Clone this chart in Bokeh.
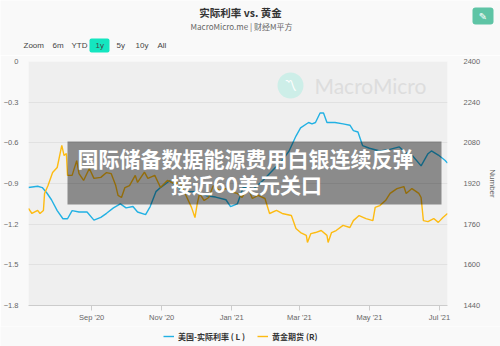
import pandas as pd
from bokeh.plotting import figure
from bokeh.layouts import column, row
from bokeh.models import (Range1d, LinearAxis, DatetimeTickFormatter, MonthsTicker,
                          FixedTicker, Label, BoxAnnotation, Legend, LegendItem)
from bokeh.core.properties import value
from bokeh.embed import file_html
from bokeh.resources import INLINE

# ---------------- data ----------------
rate_dates = ["2020-07-08", "2020-07-16", "2020-07-20", "2020-07-24", "2020-07-28", "2020-08-02",
              "2020-08-07", "2020-08-11", "2020-08-15", "2020-08-21", "2020-08-28", "2020-09-03",
              "2020-09-09", "2020-09-14", "2020-09-20", "2020-09-26", "2020-10-01", "2020-10-07",
              "2020-10-11", "2020-10-18", "2020-10-22", "2020-10-27", "2020-10-31", "2020-11-08",
              "2020-11-20", "2020-12-01", "2020-12-10", "2020-12-18", "2020-12-27", "2020-12-31",
              "2021-01-06", "2021-01-11", "2021-01-20", "2021-01-28", "2021-02-06", "2021-02-14",
              "2021-02-20", "2021-02-26", "2021-03-02", "2021-03-09", "2021-03-12", "2021-03-15",
              "2021-03-19", "2021-03-22", "2021-03-25", "2021-04-01", "2021-04-08", "2021-04-14",
              "2021-04-17", "2021-04-21", "2021-04-25", "2021-05-01", "2021-05-10", "2021-05-18",
              "2021-05-27", "2021-06-01", "2021-06-07", "2021-06-15", "2021-06-21", "2021-06-24",
              "2021-06-30", "2021-07-06", "2021-07-08"]
real_rate = [-0.93, -0.92, -0.93, -0.97, -1.02, -1.10, -1.16, -1.16, -1.10, -1.11, -1.11, -1.17,
             -1.15, -1.12, -1.08, -1.05, -1.08, -1.07, -1.11, -1.13, -1.07, -0.96, -0.93, -0.88,
             -0.96, -0.96, -0.99, -1.00, -1.02, -1.07, -1.05, -0.93, -0.94, -0.88, -0.80, -0.73,
             -0.66, -0.55, -0.49, -0.45, -0.46, -0.45, -0.38, -0.38, -0.45, -0.45, -0.46, -0.47,
             -0.51, -0.52, -0.62, -0.64, -0.66, -0.65, -0.63, -0.67, -0.69, -0.77, -0.68, -0.66,
             -0.69, -0.73, -0.75]

gold_dates = ["2020-07-08", "2020-07-11", "2020-07-16", "2020-07-18", "2020-07-21", "2020-07-22",
              "2020-07-25", "2020-07-29", "2020-08-02", "2020-08-06", "2020-08-08", "2020-08-10",
              "2020-08-11", "2020-08-15", "2020-08-19", "2020-08-21", "2020-08-25", "2020-08-30",
              "2020-09-03", "2020-09-09", "2020-09-14", "2020-09-18", "2020-09-22", "2020-09-24",
              "2020-09-27", "2020-09-30", "2020-10-04", "2020-10-09", "2020-10-11", "2020-10-17",
              "2020-10-20", "2020-10-26", "2020-10-31", "2020-11-06", "2020-11-12", "2020-11-17",
              "2020-11-23", "2020-11-27", "2020-11-30", "2020-12-02", "2020-12-04", "2020-12-08",
              "2020-12-12", "2020-12-16", "2020-12-21", "2020-12-27", "2021-01-02", "2021-01-06",
              "2021-01-10", "2021-01-15", "2021-01-19", "2021-01-24", "2021-01-30", "2021-02-03",
              "2021-02-09", "2021-02-14", "2021-02-22", "2021-02-26", "2021-03-02", "2021-03-07",
              "2021-03-08", "2021-03-11", "2021-03-15", "2021-03-20", "2021-03-25", "2021-03-26",
              "2021-03-29", "2021-04-02", "2021-04-08", "2021-04-14", "2021-04-17", "2021-04-22",
              "2021-04-28", "2021-05-04", "2021-05-06", "2021-05-10", "2021-05-15", "2021-05-19",
              "2021-05-25", "2021-05-31", "2021-06-02", "2021-06-07", "2021-06-13", "2021-06-15",
              "2021-06-17", "2021-06-21", "2021-06-26", "2021-06-30", "2021-07-04", "2021-07-08"]
gold_futures = [1822, 1802, 1814, 1802, 1814, 1881, 1912, 1963, 1983, 2070, 2030, 2038,
                1952, 1952, 2010, 1959, 1932, 1979, 1940, 1944, 1963, 1959, 1912, 1873,
                1865, 1904, 1912, 1952, 1924, 1965, 1940, 1952, 1904, 1932, 1920, 1924,
                1865, 1826, 1786, 1841, 1881, 1853, 1865, 1912, 1893, 1900, 1885, 1881,
                1865, 1904, 1861, 1873, 1861, 1802, 1814, 1802, 1794, 1743, 1727, 1716,
                1688, 1723, 1727, 1735, 1716, 1688, 1727, 1735, 1755, 1747, 1774, 1794,
                1782, 1774, 1826, 1833, 1853, 1881, 1900, 1908, 1881, 1900, 1881, 1865,
                1774, 1770, 1782, 1767, 1786, 1802]

left_ticks = [-1.8, -1.5, -1.2, -0.9, -0.6, -0.3, 0]
right_ticks = [1440, 1600, 1760, 1920, 2080, 2240, 2400]
range_buttons = ["Zoom", "6m", "YTD", "1y", "5y", "10y", "All"]
series_names = ["美国-实际利率 ( L )", "黄金期货 (R)"]
title_text = "实际利率 vs. 黄金"
subtitle_text = "MacroMicro.me | 财经M平方"
overlay_lines = ["国际储备数据能源费用白银连续反弹", "接近60美元关口"]

BLUE = "#22b1e3"
GOLD = "#fdbb12"
LATIN = "Liberation Sans"
CJK = "Noto Sans CJK SC"
PAGE_BG = "#f9f9f9"


def blank_fig(h, yr):
    f = figure(width=500, height=h, output_backend="svg", toolbar_location=None,
               x_range=Range1d(0, 500), y_range=yr,
               x_axis_location=None, y_axis_location=None,
               min_border=0, min_border_left=0, min_border_right=0,
               min_border_top=0, min_border_bottom=0,
               background_fill_color=PAGE_BG, border_fill_color=PAGE_BG,
               outline_line_color=None)
    f.xgrid.visible = False
    f.ygrid.visible = False
    return f


# ---------------- header ----------------
hd = blank_fig(55, Range1d(55, 0))
hd.text(x=[240], y=[12], text=[title_text], text_align="center", text_baseline="middle",
        text_color="#333333", text_font=value(CJK), text_font_size="10.5px",
        text_font_style="bold")
hd.text(x=[241], y=[26], text=[subtitle_text], text_align="center", text_baseline="middle",
        text_color="#666666", text_font=value(CJK), text_font_size="8px")
hd.quad(left=[89], right=[109], top=[38], bottom=[52], fill_color="#14e6c0",
        line_color=None, border_radius=2)
btn_x = [23, 52, 71, 95, 116, 135, 157]
hd.text(x=btn_x, y=[45] * len(btn_x), text=range_buttons, text_align="left",
        text_baseline="middle", text_color="#444444", text_font=value(LATIN),
        text_font_size="8px")
hd.quad(left=[472], right=[493], top=[7], bottom=[24], fill_color="#5ec4a5",
        line_color=None, border_radius=3)
hd.text(x=[482.5], y=[15.5], text=["✎"], text_align="center", text_baseline="middle",
        text_color="white", text_font=value("DejaVu Sans"), text_font_size="10px")

# ---------------- main chart ----------------
p = figure(width=500, height=271, x_axis_type="datetime", output_backend="svg",
           toolbar_location=None,
           min_border_left=23, min_border_right=48, min_border_top=6, min_border_bottom=21,
           x_range=Range1d(pd.Timestamp("2020-07-08"), pd.Timestamp("2021-07-08")),
           y_range=Range1d(-1.8, 0),
           background_fill_color="#efefef", border_fill_color=PAGE_BG,
           outline_line_color=None)
p.extra_y_ranges = {"gold": Range1d(1440, 2400)}

p.xgrid.grid_line_color = None
p.ygrid.grid_line_color = "#e1e1e1"
p.ygrid.ticker = FixedTicker(ticks=left_ticks)

xa = p.xaxis[0]
xa.ticker = MonthsTicker(months=[0, 2, 4, 6, 8, 10])
xa.formatter = DatetimeTickFormatter(months="%b '%y", days="%b '%y")
xa.axis_line_color = "#cccccc"
xa.major_tick_line_color = "#cccccc"
xa.major_tick_in = 0
xa.major_tick_out = 5
xa.minor_tick_line_color = None
xa.major_label_text_font = LATIN
xa.major_label_text_font_size = "7.5px"
xa.major_label_text_color = "#666666"
xa.major_label_standoff = 2

ya = p.yaxis[0]
ya.ticker = FixedTicker(ticks=left_ticks)
ya.axis_line_color = None
ya.major_tick_line_color = None
ya.minor_tick_line_color = None
ya.major_label_text_font = LATIN
ya.major_label_text_font_size = "7.5px"
ya.major_label_text_color = "#666666"
ya.major_label_standoff = 4

ra = LinearAxis(y_range_name="gold", ticker=FixedTicker(ticks=right_ticks), axis_label="Number")
ra.axis_line_color = None
ra.major_tick_line_color = None
ra.minor_tick_line_color = None
ra.major_label_text_font = LATIN
ra.major_label_text_font_size = "7.5px"
ra.major_label_text_color = "#666666"
ra.major_label_standoff = 10
ra.axis_label_text_font = LATIN
ra.axis_label_text_font_size = "8px"
ra.axis_label_text_font_style = "normal"
ra.axis_label_text_color = "#666666"
ra.axis_label_standoff = 5
p.add_layout(ra, "right")

# watermark
p.add_layout(BoxAnnotation(left=249, right=275, top=233, bottom=207,
                           left_units="screen", right_units="screen",
                           top_units="screen", bottom_units="screen",
                           border_radius=13, fill_color="#cdeee8", fill_alpha=1,
                           line_color=None, level="underlay"))
p.add_layout(Label(x=262, y=220, x_units="screen", y_units="screen", text="〽",
                   text_align="center", text_baseline="middle", text_color="white",
                   text_font="DejaVu Sans", text_font_size="13px", level="underlay"))
p.add_layout(Label(x=286, y=220, x_units="screen", y_units="screen", text="MacroMicro",
                   text_align="left", text_baseline="middle", text_color="#dddddd",
                   text_font="Lato", text_font_size="21px", level="underlay"))

r1 = p.line(pd.to_datetime(rate_dates), real_rate, line_color=BLUE, line_width=1.4)
r2 = p.line(pd.to_datetime(gold_dates), gold_futures, line_color=GOLD, line_width=1.4,
            y_range_name="gold")

# overlay banner
p.add_layout(BoxAnnotation(left=39, right=413, top=164, bottom=101,
                           left_units="screen", right_units="screen",
                           top_units="screen", bottom_units="screen",
                           fill_color="black", fill_alpha=0.42, line_color=None))
p.add_layout(Label(x=217, y=148, x_units="screen", y_units="screen", text=overlay_lines[0],
                   text_align="center", text_baseline="middle", text_color="white",
                   text_font=CJK, text_font_size="21px", text_font_style="bold"))
p.add_layout(Label(x=218, y=122, x_units="screen", y_units="screen", text=overlay_lines[1],
                   text_align="center", text_baseline="middle", text_color="white",
                   text_font=CJK, text_font_size="21px", text_font_style="bold"))

# ---------------- footer with legend ----------------
ft = blank_fig(20, Range1d(0, 20))
d1 = ft.line([-20, -10], [-50, -50], line_color=BLUE, line_width=1.4)
d2 = ft.line([-20, -10], [-50, -50], line_color=GOLD, line_width=1.4)
legend = Legend(items=[LegendItem(label=series_names[0], renderers=[d1]),
                       LegendItem(label=series_names[1], renderers=[d2])],
                location=(163, 4), orientation="horizontal",
                padding=0, margin=0, spacing=12, label_standoff=4,
                glyph_width=11, glyph_height=12, label_height=12,
                border_line_color=None, background_fill_alpha=0,
                label_text_font=CJK, label_text_font_size="8px",
                label_text_font_style="bold", label_text_color="#333333")
ft.add_layout(legend)

layout = column(row(hd), p, row(ft), spacing=0)
open("out.html", "w").write(file_html(layout, INLINE))
